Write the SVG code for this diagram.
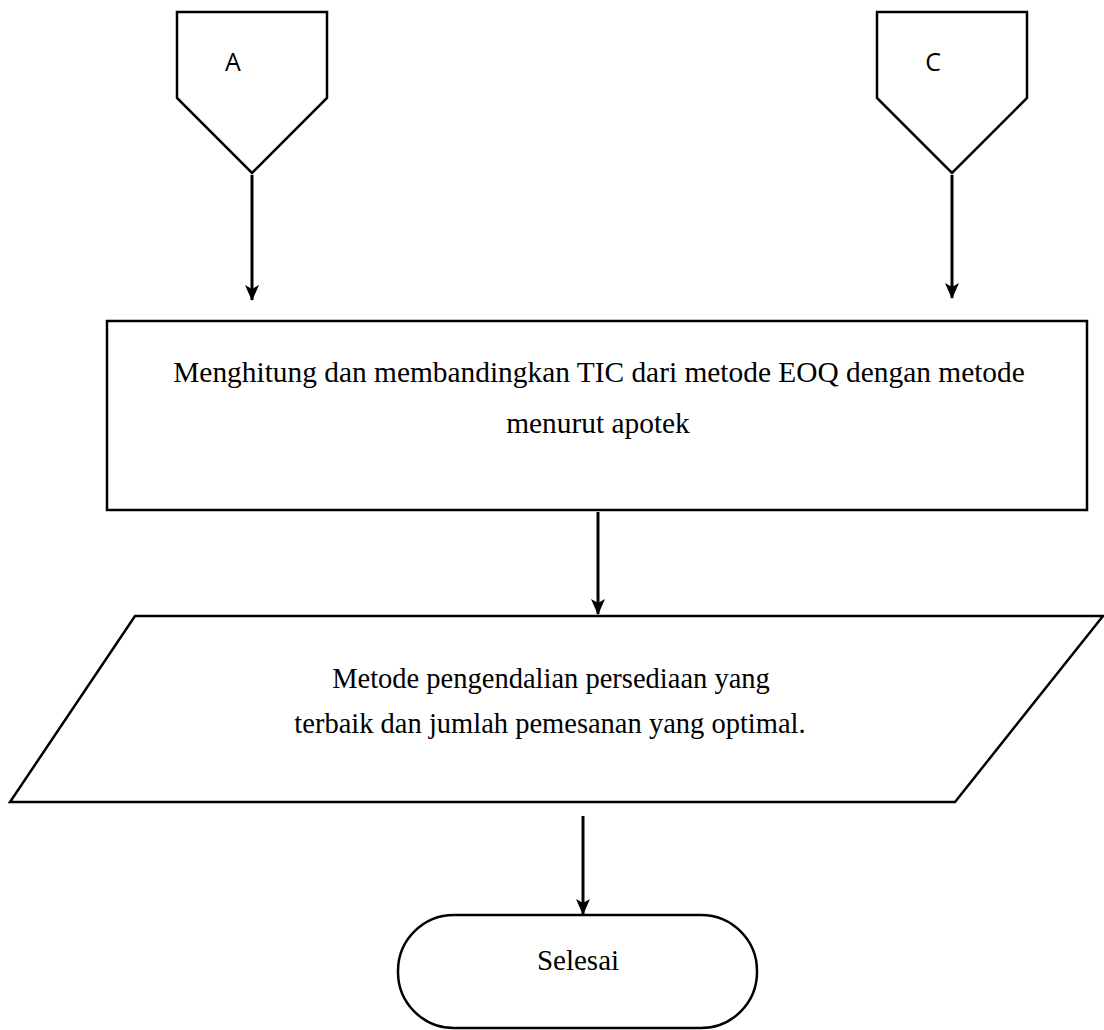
<svg xmlns="http://www.w3.org/2000/svg" width="1104" height="1030" viewBox="0 0 1104 1030">
<style>
.shape{fill:#fff;stroke:#000;stroke-width:2.5}
.serif{font-family:"Liberation Serif","Times New Roman",serif;font-size:28.5px;fill:#000}
.big{font-size:29.4px}
.sans{font-family:"Open Sans","Liberation Sans",sans-serif;font-size:25px;fill:#000}
.conn{stroke:#000;stroke-width:3;fill:none}
</style>
<defs>
<marker id="arr" markerWidth="16" markerHeight="14" refX="15" refY="7" orient="auto" markerUnits="userSpaceOnUse" viewBox="0 0 16 14">
<path d="M0,0 L16,7 L0,14 L4,7 Z" fill="#000"/>
</marker>
</defs>
<rect width="1104" height="1030" fill="#fff"/>
<g id="nodeA">
<polygon class="shape" points="177,12 327,12 327,98 252,173 177,98"/>
<text class="sans" x="233" y="71" text-anchor="middle">A</text>
</g>
<g id="nodeC">
<polygon class="shape" points="877,12 1027,12 1027,98 952,173 877,98"/>
<text class="sans" x="933" y="71" text-anchor="middle">C</text>
</g>
<g id="process">
<rect class="shape" x="107" y="321" width="980" height="189"/>
<text class="serif big" x="599" y="382" text-anchor="middle">Menghitung dan membandingkan TIC dari metode EOQ dengan metode</text>
<text class="serif big" x="598" y="433" text-anchor="middle">menurut apotek</text>
</g>
<g id="output">
<polygon class="shape" points="135,616 1103,616 955,802 10,802"/>
<text class="serif" x="551" y="688" text-anchor="middle">Metode pengendalian persediaan yang</text>
<text class="serif" x="550" y="733" text-anchor="middle">terbaik dan jumlah pemesanan yang optimal.</text>
</g>
<g id="end">
<rect class="shape" x="398" y="915" width="359" height="113" rx="56" ry="56"/>
<text class="serif" x="578" y="970" text-anchor="middle" style="font-size:29px">Selesai</text>
</g>
<g id="connectors">
<line class="conn" x1="252" y1="175" x2="252" y2="300" marker-end="url(#arr)"/>
<line class="conn" x1="952" y1="175" x2="952" y2="298" marker-end="url(#arr)"/>
<line class="conn" x1="598" y1="512" x2="598" y2="614" marker-end="url(#arr)"/>
<line class="conn" x1="583" y1="816" x2="583" y2="914" marker-end="url(#arr)"/>
</g>
</svg>
